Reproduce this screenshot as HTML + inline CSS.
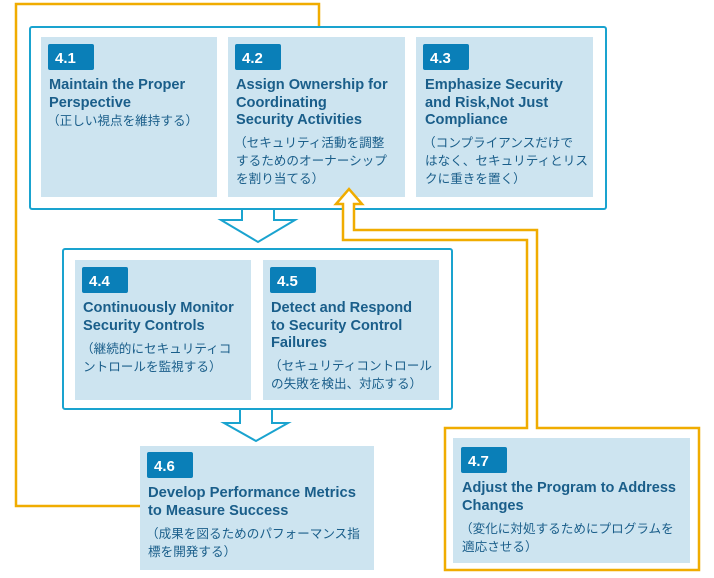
<!DOCTYPE html>
<html><head><meta charset="utf-8"><style>
html,body{margin:0;padding:0;background:#fff;}
svg{display:block;}
text{font-family:"Liberation Sans","Noto Sans CJK JP",sans-serif;fill:#1a5e8a;}
.t{font-weight:bold;font-size:14.6px;}
.j{font-size:12.6px;}
.b{fill:#fff;font-weight:bold;font-size:15px;}
</style></head><body>
<svg width="714" height="578" viewBox="0 0 714 578" xmlns="http://www.w3.org/2000/svg">
<polyline points="140,506 16,506 16,4 319,4 319,42" fill="none" stroke="#f0ac00" stroke-width="2.5"/>
<polyline points="311,33 319,42 327,33" fill="none" stroke="#f0ac00" stroke-width="2.5"/>
<rect x="30" y="27" width="576" height="182" rx="2" fill="#fff" stroke="#1aa3cf" stroke-width="2"/>
<rect x="41" y="37" width="176" height="160" fill="#cde4f0"/>
<rect x="228" y="37" width="177" height="160" fill="#cde4f0"/>
<rect x="416" y="37" width="177" height="160" fill="#cde4f0"/>
<polygon points="242,209 274,209 274,220 295,220 258,242 221,220 242,220" fill="#fff" stroke="#1aa3cf" stroke-width="2"/>
<rect x="63" y="249" width="389" height="160" rx="2" fill="#fff" stroke="#1aa3cf" stroke-width="2"/>
<rect x="75" y="260" width="176" height="140" fill="#cde4f0"/>
<rect x="263" y="260" width="176" height="140" fill="#cde4f0"/>
<polygon points="240,409 272,409 272,423 288,423 256,441 224,423 240,423" fill="#fff" stroke="#1aa3cf" stroke-width="2"/>
<rect x="140" y="446" width="234" height="124" fill="#cde4f0"/>
<path d="M343,240 L527,240 L527,428 L445,428 L445,570 L699,570 L699,428 L537,428 L537,230 L354,230 L354,204 L362,204 L349,189 L336,204 L343,204 Z" fill="#fff" stroke="#f0ac00" stroke-width="2.5" stroke-linejoin="miter"/>
<rect x="453" y="438" width="237" height="125" fill="#cde4f0"/>
<rect x="48" y="44" width="46" height="26" rx="2" fill="#0a7fb8"/>
<rect x="235" y="44" width="46" height="26" rx="2" fill="#0a7fb8"/>
<rect x="423" y="44" width="46" height="26" rx="2" fill="#0a7fb8"/>
<rect x="82" y="267" width="46" height="26" rx="2" fill="#0a7fb8"/>
<rect x="270" y="267" width="46" height="26" rx="2" fill="#0a7fb8"/>
<rect x="147" y="452" width="46" height="26" rx="2" fill="#0a7fb8"/>
<rect x="461" y="447" width="46" height="26" rx="2" fill="#0a7fb8"/>
<text class="b" x="55" y="63">4.1</text>
<text class="b" x="242" y="63">4.2</text>
<text class="b" x="430" y="63">4.3</text>
<text class="b" x="89" y="286">4.4</text>
<text class="b" x="277" y="286">4.5</text>
<text class="b" x="154" y="471">4.6</text>
<text class="b" x="468" y="466">4.7</text>

<text class="t" x="49" y="89">Maintain the Proper</text>
<text class="t" x="49" y="107">Perspective</text>
<text class="j" x="47" y="125">（正しい視点を維持する）</text>

<text class="t" x="236" y="89">Assign Ownership for</text>
<text class="t" x="236" y="107">Coordinating</text>
<text class="t" x="236" y="124">Security Activities</text>
<text class="j" x="234" y="147">（セキュリティ活動を調整</text>
<text class="j" x="236" y="165">するためのオーナーシップ</text>
<text class="j" x="236" y="183">を割り当てる）</text>

<text class="t" x="425" y="89">Emphasize Security</text>
<text class="t" x="425" y="107">and Risk,Not Just</text>
<text class="t" x="425" y="124">Compliance</text>
<text class="j" x="423" y="147">（コンプライアンスだけで</text>
<text class="j" x="425" y="165">はなく、セキュリティとリス</text>
<text class="j" x="425" y="183">クに重きを置く）</text>

<text class="t" x="83" y="312">Continuously Monitor</text>
<text class="t" x="83" y="330">Security Controls</text>
<text class="j" x="81" y="353">（継続的にセキュリティコ</text>
<text class="j" x="83" y="371">ントロールを監視する）</text>

<text class="t" x="271" y="312">Detect and Respond</text>
<text class="t" x="271" y="330">to Security Control</text>
<text class="t" x="271" y="347">Failures</text>
<text class="j" x="269" y="370">（セキュリティコントロール</text>
<text class="j" x="271" y="388">の失敗を検出、対応する）</text>

<text class="t" x="148" y="497" textLength="208" lengthAdjust="spacingAndGlyphs">Develop Performance Metrics</text>
<text class="t" x="148" y="515">to Measure Success</text>
<text class="j" x="146" y="538">（成果を図るためのパフォーマンス指</text>
<text class="j" x="148" y="556">標を開発する）</text>

<text class="t" x="462" y="492" textLength="214" lengthAdjust="spacingAndGlyphs">Adjust the Program to Address</text>
<text class="t" x="462" y="510">Changes</text>
<text class="j" x="460" y="533">（変化に対処するためにプログラムを</text>
<text class="j" x="462" y="551">適応させる）</text>
</svg>
</body></html>
